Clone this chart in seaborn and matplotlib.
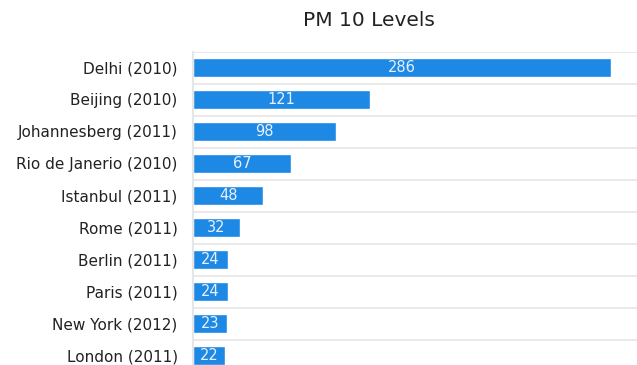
import matplotlib
matplotlib.use('Agg')
import matplotlib.pyplot as plt
import seaborn as sns
import pandas as pd

# PM10 data
cities = ['Delhi (2010)', 'Beijing (2010)', 'Johannesberg (2011)', 'Rio de Janerio (2010)',
          'Istanbul (2011)', 'Rome (2011)', 'Berlin (2011)', 'Paris (2011)',
          'New York (2012)', 'London (2011)']
pm10 = [286, 121, 98, 67, 48, 32, 24, 24, 23, 22]

df = pd.DataFrame({'city': cities, 'pm10': pm10})

sns.set_style('white')
plt.rcParams['font.family'] = ['DejaVu Sans']

fig = plt.figure(figsize=(6.37, 3.65), dpi=100)
ax = fig.add_axes([193 / 637, -6.5 / 365, 444 / 637, 320 / 365])

sns.barplot(data=df, x='pm10', y='city', color='#1e88e5', width=0.58,
            saturation=1, ax=ax, orient='h')

ax.set_xlim(0, 303.8)
ax.set_ylim(len(cities) - 0.5, -0.5)

# value labels centred in bars
for i, v in enumerate(pm10):
    ax.text(v / 2, i, str(v), color='#e8f1fb', ha='center', va='center', fontsize=10.5)

# separators between categories
ax.set_yticks([i + 0.5 for i in range(-1, len(cities))], minor=True)
ax.grid(which='minor', axis='y', color='#e6e6e6', linewidth=1.2)
ax.grid(which='major', visible=False)
ax.set_xticks([])
ax.tick_params(axis='y', which='both', length=0, pad=11, labelsize=11, colors='#222222')
ax.set_xlabel('')
ax.set_ylabel('')
for s in ['top', 'right', 'bottom']:
    ax.spines[s].set_visible(False)
ax.spines['left'].set_color('#e6e6e6')
ax.spines['left'].set_linewidth(1.5)

fig.text(369 / 637, 1 - 20 / 365, 'PM 10 Levels', ha='center', va='center', fontsize=14.5, color='#222222')

fig.savefig('out.png', dpi=100)
